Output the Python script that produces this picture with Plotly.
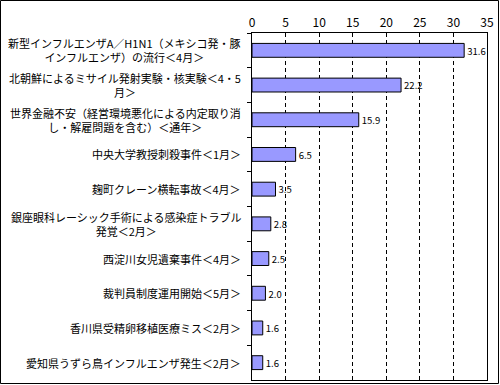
import plotly.graph_objects as go

categories = [
    "新型インフルエンザA／H1N1（メキシコ発・豚<br>インフルエンザ）の流行＜4月＞",
    "北朝鮮によるミサイル発射実験・核実験＜4・5<br>月＞",
    "世界金融不安（経営環境悪化による内定取り消<br>し・解雇問題を含む）＜通年＞",
    "中央大学教授刺殺事件＜1月＞",
    "麹町クレーン横転事故＜4月＞",
    "銀座眼科レーシック手術による感染症トラブル<br>発覚＜2月＞",
    "西淀川女児遺棄事件＜4月＞",
    "裁判員制度運用開始＜5月＞",
    "香川県受精卵移植医療ミス＜2月＞",
    "愛知県うずら鳥インフルエンザ発生＜2月＞",
]
values = [31.6, 22.2, 15.9, 6.5, 3.5, 2.8, 2.5, 2.0, 1.6, 1.6]
x_ticks = [0, 5, 10, 15, 20, 25, 30, 35]

W, H = 500, 385
ML, MR, MT, MB = 252, 13, 33, 5
PW, PH = W - ML - MR, H - MT - MB
FONT = "Noto Sans CJK JP, sans-serif"

ids = [f"c{i}" for i in range(len(categories))]

fig = go.Figure(go.Bar(
    x=values, y=ids, orientation="h",
    marker=dict(color="#9999FF", line=dict(color="black", width=1)),
    texttemplate="%{x:.1f}", textposition="outside",
    textfont=dict(family=FONT, size=11, color="black"),
    cliponaxis=False,
))

annotations = []
for cid, lab in zip(ids, categories):
    annotations.append(dict(
        x=-9 / PW, xref="paper", y=cid, yref="y",
        text=lab, showarrow=False, xanchor="right", yanchor="middle",
        align="center", font=dict(family=FONT, size=11, color="black"),
    ))

fig.update_layout(
    width=W, height=H,
    margin=dict(l=ML, r=MR, t=MT, b=MB),
    paper_bgcolor="white", plot_bgcolor="white",
    showlegend=False, bargap=0.6,
    font=dict(family=FONT, size=11, color="black"),
    annotations=annotations,
    shapes=[dict(type="rect", xref="paper", yref="paper",
                 x0=-(ML - 0.5) / PW, x1=(PW + MR - 1.5) / PW,
                 y0=-(MB - 1.5) / PH, y1=(PH + MT - 0.5) / PH,
                 line=dict(color="black", width=1), layer="above")],
)
fig.update_xaxes(
    side="top", range=[0, 35], tickvals=x_ticks,
    showgrid=True, gridcolor="black", gridwidth=1, griddash="4px,3px",
    showline=True, linecolor="black", linewidth=1, mirror=True,
    ticks="", zeroline=False,
    tickfont=dict(family=FONT, size=12, color="black"),
)
fig.update_yaxes(
    type="category", autorange="reversed", categoryorder="array", categoryarray=ids,
    showticklabels=False, ticks="outside", ticklen=4, tickcolor="black",
    tickson="boundaries", showgrid=False,
    showline=True, linecolor="black", linewidth=1, mirror=True,
)

fig.write_html("out.html", config={"displayModeBar": False},
               post_script="document.body.style.margin='0';document.body.style.overflow='hidden';")
